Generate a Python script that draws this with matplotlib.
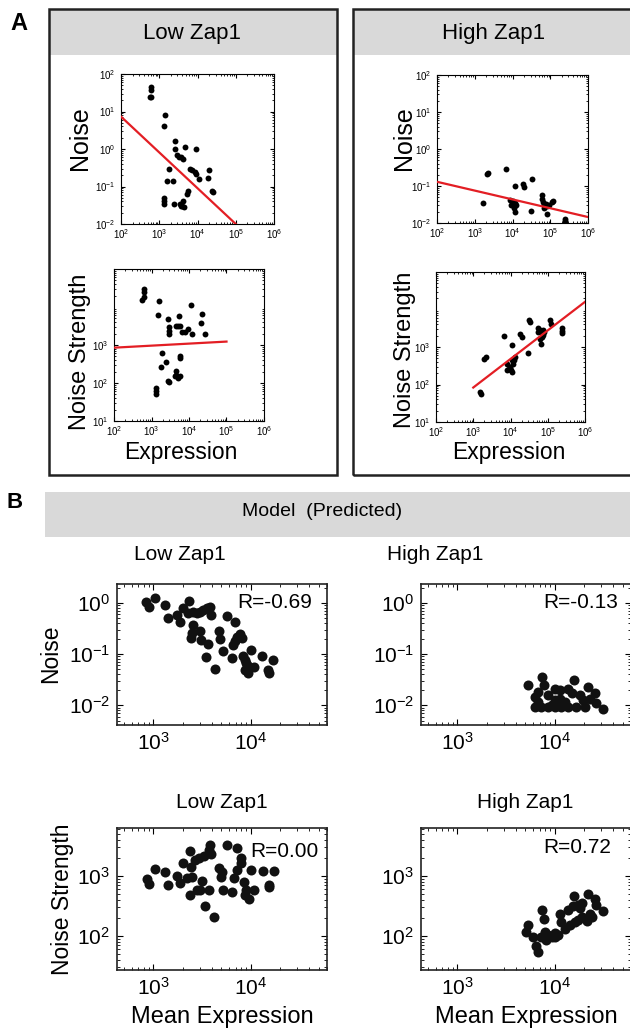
import matplotlib.pyplot as plt
from matplotlib.patches import Rectangle

plt.rcParams['font.family'] = ['Liberation Sans', 'DejaVu Sans']
plt.rcParams['mathtext.fontset'] = 'custom'
plt.rcParams['mathtext.rm'] = 'Liberation Sans'
plt.rcParams['mathtext.it'] = 'Liberation Sans:italic'
plt.rcParams['mathtext.bf'] = 'Liberation Sans:bold'

# ---------------- data ----------------
# Panel A, Low Zap1
a_low_noise_x = [600, 600, 570, 620, 1400, 1300, 2600, 2600, 2900, 3300, 3800, 4300, 4800,
                 9000, 1800, 1600, 2300, 6500, 7000, 8500, 9000, 11000, 20000, 19000,
                 24000, 25000, 5500, 5300, 1300, 1300, 1300, 2500, 3500, 4200, 4000, 4500, 3800]
a_low_noise_y = [44, 37, 25, 24, 8.3, 4.0, 1.6, 1.0, 0.69, 0.62, 0.6, 0.55, 1.1,
                 1.0, 0.30, 0.14, 0.14, 0.3, 0.28, 0.25, 0.22, 0.16, 0.28, 0.17,
                 0.075, 0.07, 0.075, 0.065, 0.05, 0.04, 0.035, 0.035, 0.035, 0.04, 0.03, 0.028, 0.03]
a_low_ns_x = [620, 650, 620, 570, 1550, 1450, 2800, 5300, 11000, 22000, 20500, 27000,
              2900, 2900, 2950, 4500, 5000, 5600, 6600, 7600, 9400, 12000,
              1950, 1740, 2500, 5600, 5900, 2760, 3000, 4150, 4600, 4400, 5100, 5600,
              1350, 1350, 1350]
a_low_ns_y = [30000, 24500, 18000, 15000, 14000, 6300, 4800, 5900, 11500, 6500, 3800, 2000,
              2900, 2300, 1900, 3100, 3100, 3100, 2200, 2200, 2600, 2000,
              630, 260, 360, 460, 510, 110, 105, 150, 167, 205, 135, 155,
              74, 60, 51]
a_low_fit_noise_x = [100, 100000]
a_low_fit_noise_y = [7.3, 0.01]
a_low_fit_ns_x = [100, 100000]
a_low_fit_ns_y = [850, 1230]

# Panel A, High Zap1
a_high_noise_x = [1700, 2200, 2100, 6700, 11700, 19500, 20500, 32000, 8500, 9000, 10000,
                  11000, 12000, 11500, 12500, 31000, 60000, 60000, 65000, 70000, 75000,
                  70000, 80000, 90000, 110000, 115000, 240000, 240000, 245000, 80000]
a_high_noise_y = [0.035, 0.22, 0.21, 0.28, 0.1, 0.11, 0.095, 0.15, 0.043, 0.030, 0.040,
                  0.025, 0.035, 0.020, 0.030, 0.021, 0.056, 0.045, 0.037, 0.030, 0.032,
                  0.025, 0.028, 0.030, 0.036, 0.040, 0.013, 0.011, 0.010, 0.018]
a_high_ns_x = [1540, 1620, 2000, 2200, 6500, 11000, 7900, 8900, 9800, 11000, 12000, 12600,
               13400, 7900, 11000, 10200, 32000, 34000, 18000, 20000, 30000,
               56000, 56000, 62000, 69000, 76000, 81000, 69000, 62000, 76000, 65000,
               115000, 122000, 240000, 242000, 244000]
a_high_ns_y = [63, 55, 470, 540, 1950, 1100, 360, 265, 290, 215, 360, 460,
               540, 250, 440, 250, 5100, 4700, 2200, 1900, 690,
               3300, 2500, 2800, 2300, 2900, 2500, 1850, 1600, 2100, 1230,
               5100, 4000, 3300, 2700, 2300]
a_high_fit_noise_x = [100, 1000000]
a_high_fit_noise_y = [0.13, 0.0145]
a_high_fit_ns_x = [1000, 1000000]
a_high_fit_ns_y = [83, 16000]

# Panel B, model (predicted)
b_low_noise_x = [850, 910, 1040, 1320, 1420, 1740, 1880, 2000, 2340, 2290, 2580, 2780,
                 3020, 3260, 3530, 3820, 3870, 2580, 2450, 2500, 3000, 3100, 3670, 3450,
                 4250, 4770, 4890, 5150, 5660, 6900, 6350, 6650, 6900, 7200, 7780, 8060,
                 8400, 8700, 9000, 9300, 8800, 9300, 10000, 10700, 13000, 15200, 15500, 17100]
b_low_noise_y = [1.05, 0.83, 1.25, 0.93, 0.51, 0.59, 0.42, 0.80, 1.07, 0.65, 0.68, 0.64,
                 0.68, 0.74, 0.80, 0.85, 0.59, 0.37, 0.21, 0.26, 0.28, 0.19, 0.16, 0.089,
                 0.050, 0.28, 0.195, 0.115, 0.56, 0.42, 0.083, 0.15, 0.18, 0.22, 0.25, 0.21,
                 0.092, 0.077, 0.066, 0.058, 0.049, 0.043, 0.12, 0.055, 0.092, 0.049, 0.042, 0.075]
b_high_noise_x = [5290, 6200, 6730, 7400, 7770, 8520, 9270, 10000, 11200, 11700, 13800,
                  13800, 15800, 14900, 16600, 18100, 20400, 22000, 22900, 25700, 26700,
                  31600, 6730, 10000, 8520, 7300, 11200, 12800, 19300, 6200, 10000]
b_high_noise_y = [0.025, 0.0145, 0.0117, 0.035, 0.025, 0.0158, 0.0100, 0.0126, 0.020,
                  0.0093, 0.021, 0.0093, 0.031, 0.017, 0.0093, 0.0158, 0.0093, 0.023,
                  0.0135, 0.017, 0.0108, 0.0086, 0.018, 0.0093, 0.0093, 0.0093, 0.0135,
                  0.0117, 0.0126, 0.0093, 0.021]
b_low_ns_x = [855, 910, 1040, 1320, 1430, 1740, 1900, 2000, 2360, 2210, 2490, 2410, 2700,
              2920, 3280, 3800, 3700, 3920, 3160, 2360, 2800, 3040, 3700, 3420, 4240, 4700,
              5100, 4900, 5200, 5740, 7170, 6720, 6460, 7260, 7900, 8000, 8500, 9000, 8800,
              9600, 10000, 10800, 13200, 15400, 15400, 17500]
b_low_ns_y = [880, 740, 1290, 1180, 710, 1000, 750, 1670, 2620, 910, 950, 1430, 1850,
              1980, 2160, 3300, 2740, 2340, 830, 480, 590, 590, 590, 315, 210, 1340,
              1180, 950, 590, 3300, 2910, 910, 550, 1260, 1980, 1630, 800, 590, 480,
              420, 1260, 590, 1230, 710, 660, 1230]
b_high_ns_x = [5300, 5100, 6000, 6470, 6730, 7400, 7770, 7880, 8500, 9300, 10000, 10800,
               8170, 11200, 11700, 12700, 14300, 16200, 17500, 18900, 13800, 15500, 17500,
               18100, 15800, 19000, 22000, 22900, 25700, 26700, 31600, 21200, 24000,
               10000, 7300]
b_high_ns_y = [150, 117, 95, 69, 53, 270, 195, 117, 102, 95, 110, 102,
               85, 235, 170, 131, 150, 170, 185, 210, 270, 310, 325,
               290, 460, 350, 500, 235, 410, 325, 260, 180, 210,
               95, 95]
b_r_values = ["R=-0.69", "R=-0.13", "R=0.00", "R=0.72"]

# ---------------- layout helpers (pixel coordinates) ----------------
W, H = 630, 1031
fig = plt.figure(figsize=(W / 100, H / 100), dpi=100)


def rect(l, t, r, b):
    return [l / W, 1 - b / H, (r - l) / W, (b - t) / H]


def ftext(x, y, s, **kw):
    fig.text(x / W, 1 - y / H, s, ha='center', va='center', **kw)


RED = '#e31e24'
GRAY = '#d9d9d9'

# Panel A frames and headers
for (l, r, title, cx) in [(49, 337, 'Low Zap1', 192), (353, 645, 'High Zap1', 494)]:
    fig.add_artist(Rectangle((l / W, 1 - 55 / H), (r - l) / W, 46 / H,
                             transform=fig.transFigure, facecolor=GRAY, edgecolor='none', zorder=0))
    fig.add_artist(Rectangle((l / W, 1 - 475 / H), (r - l) / W, 466 / H,
                             transform=fig.transFigure, facecolor='none', edgecolor='#222222',
                             linewidth=1.8, zorder=1))
    ftext(cx, 34, title, fontsize=16)

ftext(19, 23, 'A', fontsize=17, fontweight='bold')


def style_a(ax):
    ax.set_xscale('log')
    ax.set_yscale('log')
    ax.tick_params(which='both', direction='in', top=True, right=True, labelsize=7)
    ax.tick_params(axis='x', which='both', pad=2)
    ax.tick_params(axis='y', which='both', pad=4)
    ax.tick_params(which='major', length=3)
    ax.tick_params(which='minor', length=1.5)
    for sp in ax.spines.values():
        sp.set_linewidth(0.8)


a_panels = [
    ((121, 74, 274, 224), a_low_noise_x, a_low_noise_y, a_low_fit_noise_x, a_low_fit_noise_y,
     (0.01, 100), [0.01, 0.1, 1, 10, 100]),
    ((114, 269, 264, 421), a_low_ns_x, a_low_ns_y, a_low_fit_ns_x, a_low_fit_ns_y,
     (10, 1e5), [10, 100, 1000]),
    ((437, 75, 588, 223), a_high_noise_x, a_high_noise_y, a_high_fit_noise_x, a_high_fit_noise_y,
     (0.01, 100), [0.01, 0.1, 1, 10, 100]),
    ((436, 272, 585, 422), a_high_ns_x, a_high_ns_y, a_high_fit_ns_x, a_high_fit_ns_y,
     (10, 1e5), [10, 100, 1000]),
]
for (pos, xs, ys, fx_, fy_, ylim, yt) in a_panels:
    ax = fig.add_axes(rect(*pos))
    style_a(ax)
    ax.scatter(xs, ys, s=18, color='black', linewidths=0, zorder=3)
    ax.plot(fx_, fy_, color=RED, linewidth=1.6, zorder=4)
    ax.set_xlim(100, 1e6)
    ax.set_ylim(*ylim)
    ax.set_xticks([1e2, 1e3, 1e4, 1e5, 1e6])
    ax.set_yticks(yt)

ftext(80, 138, 'Noise', fontsize=18, rotation=90)
ftext(80, 352, 'Noise Strength', fontsize=17, rotation=90)
ftext(181, 453, 'Expression', fontsize=16.5)
ftext(404, 138, 'Noise', fontsize=18, rotation=90)
ftext(405, 350, 'Noise Strength', fontsize=17, rotation=90)
ftext(509, 453, 'Expression', fontsize=16.5)

# Panel B
ftext(15, 503, 'B', fontsize=16, fontweight='bold')
fig.add_artist(Rectangle((45 / W, 1 - 537 / H), (630 - 45) / W, 45 / H,
                         transform=fig.transFigure, facecolor=GRAY, edgecolor='none', zorder=0))
ftext(322, 511, 'Model  (Predicted)', fontsize=14)
ftext(180, 554, 'Low Zap1', fontsize=15)
ftext(435, 554, 'High Zap1', fontsize=15)
ftext(222, 802, 'Low Zap1', fontsize=15)
ftext(525, 802, 'High Zap1', fontsize=15)


def style_b(ax):
    ax.set_xscale('log')
    ax.set_yscale('log')
    ax.tick_params(which='both', direction='in', top=True, right=True, labelsize=15, pad=5)
    ax.tick_params(which='major', length=4)
    ax.tick_params(which='minor', length=2)
    for sp in ax.spines.values():
        sp.set_linewidth(1.2)
        sp.set_color('#222222')


b_xlim = (424, 60600)
b_panels = [
    ((117, 584, 327, 725), b_low_noise_x, b_low_noise_y, (0.0041, 2.35), [0.01, 0.1, 1],
     b_r_values[0], (0.571, 0.872)),
    ((421, 584, 631, 725), b_high_noise_x, b_high_noise_y, (0.0041, 2.35), [0.01, 0.1, 1],
     b_r_values[1], (0.581, 0.872)),
    ((117, 828, 327, 970), b_low_ns_x, b_low_ns_y, (27, 6300), [100, 1000],
     b_r_values[2], (0.633, 0.838)),
    ((421, 828, 631, 970), b_high_ns_x, b_high_ns_y, (27, 6300), [100, 1000],
     b_r_values[3], (0.581, 0.866)),
]
for (pos, xs, ys, ylim, yt, rtxt, rpos) in b_panels:
    ax = fig.add_axes(rect(*pos))
    style_b(ax)
    ax.scatter(xs, ys, s=52, color='#111111', linewidths=0, zorder=3)
    ax.set_xlim(*b_xlim)
    ax.set_ylim(*ylim)
    ax.set_xticks([1e3, 1e4])
    ax.set_yticks(yt)
    ax.text(rpos[0], rpos[1], rtxt, transform=ax.transAxes, fontsize=15,
            ha='left', va='center')

ftext(51, 654, 'Noise', fontsize=16.5, rotation=90)
ftext(62, 899, 'Noise Strength', fontsize=16.5, rotation=90)
ftext(222, 1017, 'Mean Expression', fontsize=17)
ftext(526, 1017, 'Mean Expression', fontsize=17)

fig.savefig('out.png', dpi=100)
